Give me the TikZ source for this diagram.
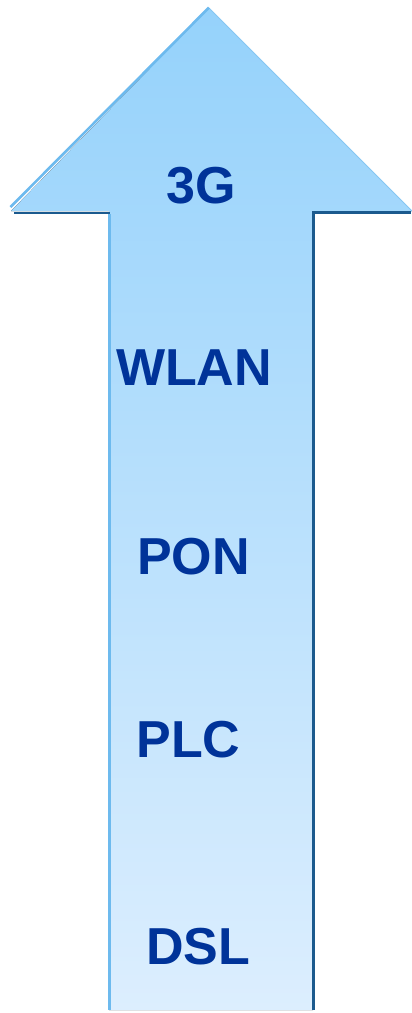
\documentclass[tikz,border=0pt]{standalone}
\usepackage{fontspec}
\setmainfont{Liberation Sans}
\begin{document}
\begin{tikzpicture}[x=1pt,y=-1pt,
  lbl/.style={font=\fontsize{52}{60}\selectfont\bfseries, text=txtblue, inner sep=0pt, anchor=center},
  hilite/.style={draw=edgelight, line width=2.6pt, line cap=butt},
  shade/.style={draw=edgedark, line width=2.2pt, line cap=butt}]
\definecolor{txtblue}{HTML}{003399}
\definecolor{topblue}{HTML}{95D2FB}
\definecolor{botblue}{HTML}{DCEEFE}
\definecolor{edgelight}{HTML}{6DBAEE}
\definecolor{edgedark}{HTML}{1B5A8E}
\definecolor{edgeright}{HTML}{86C6F2}
\useasboundingbox (0,0) rectangle (412,1013);
% arrow body
\fill[top color=topblue, bottom color=botblue]
  (209,8) -- (412,211) -- (313,211) -- (313,1010) -- (109,1010) -- (109,211) -- (11,211) -- cycle;
% bevel edges
\draw[draw=edgeright, line width=0.8pt] (209,8) -- (412,211);
\draw[shade] (14,213) -- (110,213);
\draw[shade] (312,212.5) -- (411,212.5);
\draw[shade] (313.5,212) -- (313.5,1010);
\draw[hilite] (209,7.5) -- (10.5,207);
\draw[hilite] (109.2,214) -- (109.2,1010);
% labels
\node[lbl] (g3) at (201,186) {3G};
\node[lbl] (wlan) at (194,368) {WLAN};
\node[lbl] (pon) at (193.5,557) {PON};
\node[lbl] (plc) at (188.5,740) {PLC};
\node[lbl] (dsl) at (198,947) {DSL};
\end{tikzpicture}
\end{document}
